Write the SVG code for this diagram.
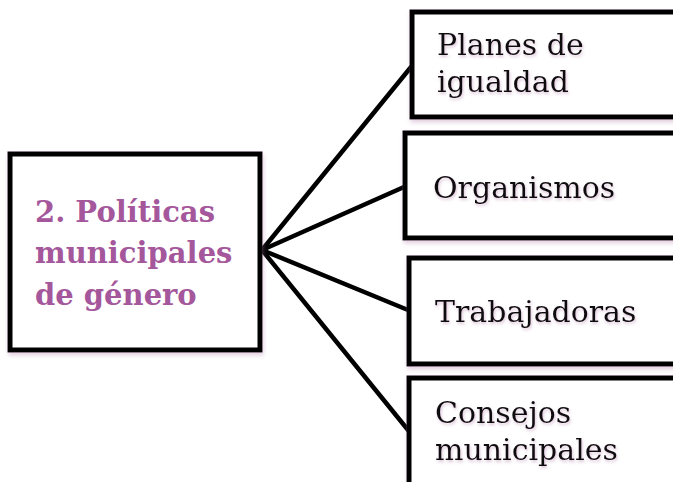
<svg xmlns="http://www.w3.org/2000/svg" width="673" height="482" viewBox="0 0 673 482">
<defs>
<filter id="sh" x="-10%" y="-10%" width="120%" height="130%">
<feDropShadow dx="1" dy="3" stdDeviation="2" flood-color="#b07aa8" flood-opacity="0.35"/>
</filter>
<filter id="tsh" x="-10%" y="-20%" width="120%" height="150%">
<feDropShadow dx="1" dy="2" stdDeviation="1.5" flood-color="#b07aa8" flood-opacity="0.45"/>
</filter>
</defs>
<style>
.box{fill:#fff;stroke:#000;stroke-width:5;filter:url(#sh)}
.lbl{font-family:"DejaVu Serif","Liberation Serif",serif;font-size:30px;fill:#111;filter:url(#tsh)}
.main{font-family:"DejaVu Serif","Liberation Serif",serif;font-size:29px;font-weight:bold;fill:#a5579c}
.conn{stroke:#000;stroke-width:4.5;fill:none;stroke-linecap:round}
</style>
<rect width="673" height="482" fill="#fff"/>
<g id="connectors">
<line class="conn" x1="262" y1="250" x2="411" y2="67"/>
<line class="conn" x1="262" y1="250" x2="404" y2="187"/>
<line class="conn" x1="262" y1="250" x2="408" y2="310"/>
<line class="conn" x1="262" y1="250" x2="408" y2="430"/>
</g>
<g id="n0">
<rect class="box" x="10" y="154" width="250" height="196"/>
<text class="main" x="35" y="222">2. Políticas</text>
<text class="main" x="35" y="263">municipales</text>
<text class="main" x="35" y="305">de género</text>
</g>
<g id="n1">
<rect class="box" x="412" y="12" width="280" height="105"/>
<text class="lbl" x="437" y="55">Planes de</text>
<text class="lbl" x="437" y="92">igualdad</text>
</g>
<g id="n2">
<rect class="box" x="405" y="133" width="290" height="105"/>
<text class="lbl" x="433" y="198">Organismos</text>
</g>
<g id="n3">
<rect class="box" x="409" y="258" width="290" height="106"/>
<text class="lbl" x="435" y="322">Trabajadoras</text>
</g>
<g id="n4">
<rect class="box" x="409" y="378" width="290" height="120"/>
<text class="lbl" x="435" y="423">Consejos</text>
<text class="lbl" x="435" y="460">municipales</text>
</g>
</svg>
